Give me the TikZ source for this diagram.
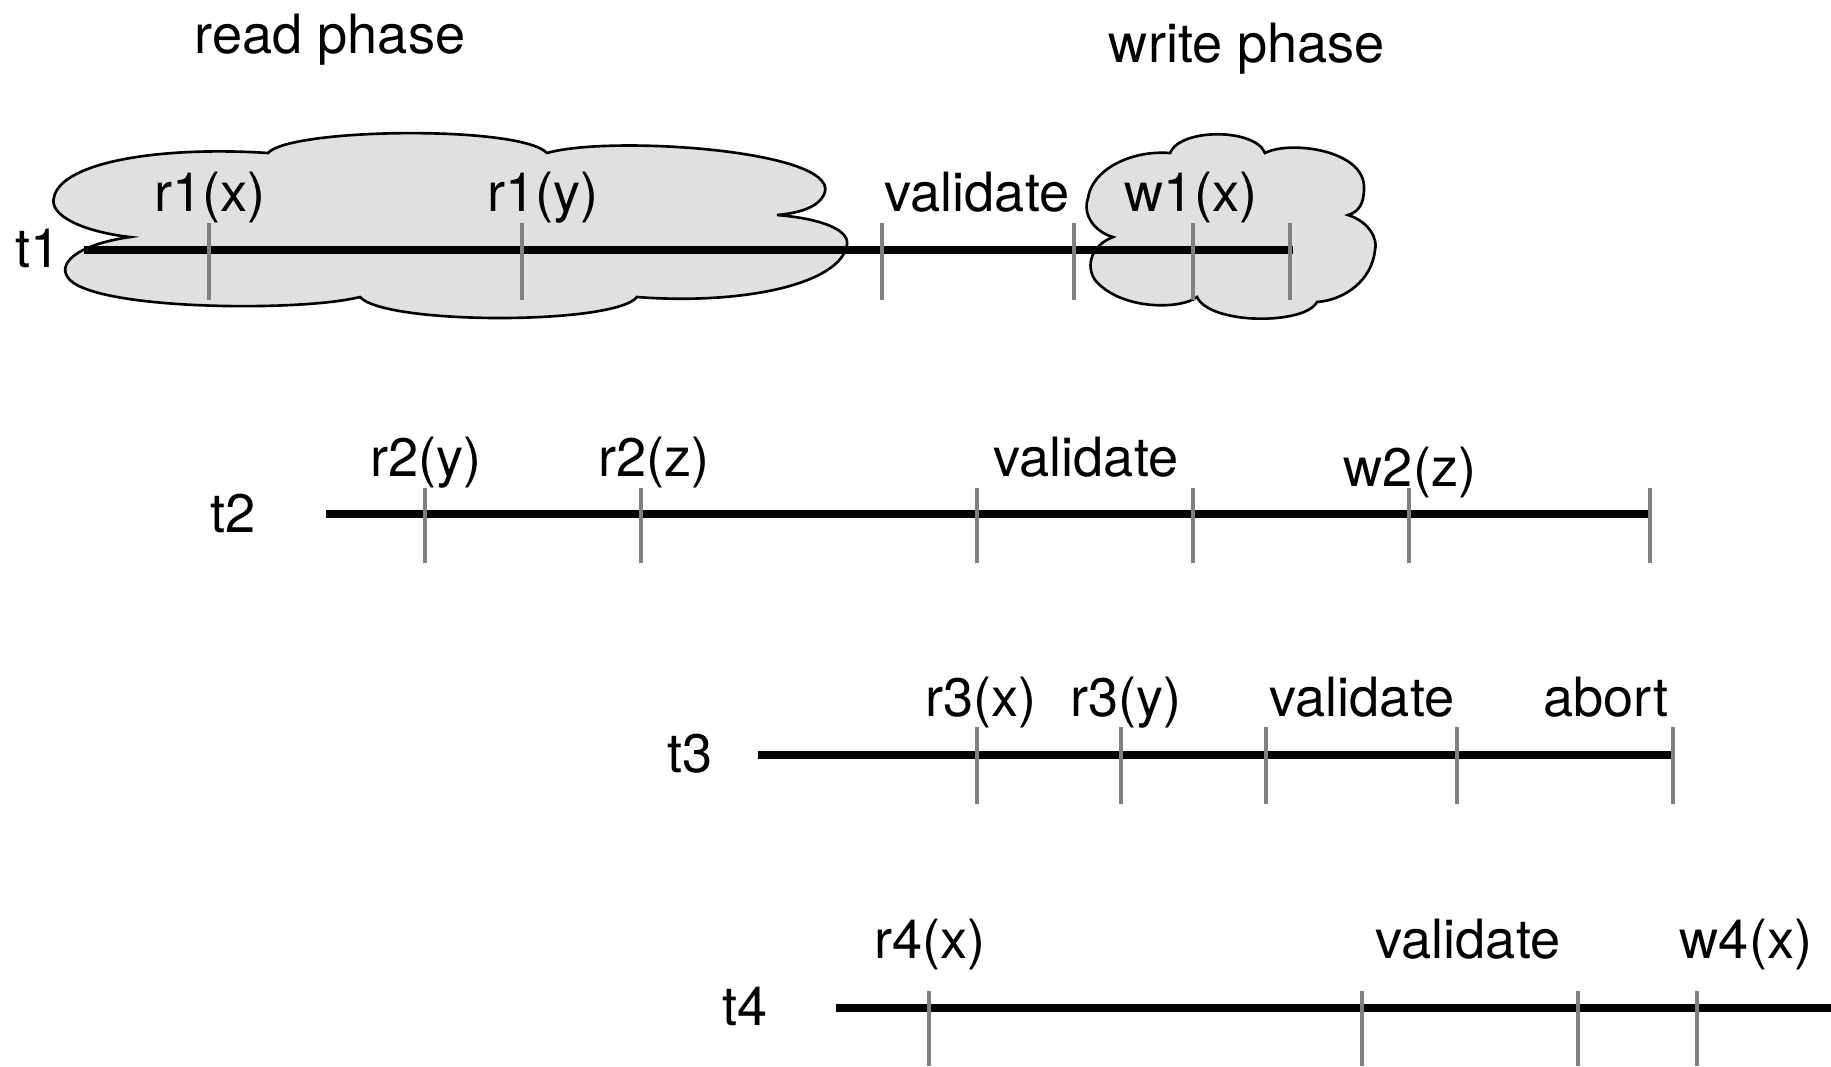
\documentclass[tikz,border=0pt]{standalone}
\usepackage{fontspec}
\setmainfont{TeX Gyre Heros}
\definecolor{tickgray}{gray}{0.5}
\definecolor{cloudgray}{gray}{0.88}

\begin{document}
\begin{tikzpicture}
[
x = 0.01cm, y = -0.01cm,
    timeline/.style = {line width = 2.4pt},
    tickmark/.style = {draw = tickgray, line width = 1.1pt},
    phase/.style = {fill = cloudgray, draw = black, line width = 0.75pt},
    op/.style = {anchor = base, inner sep = 0pt, font = \fontsize{15.4}{18}\selectfont}
]
    \useasboundingbox (0,0) rectangle (1831,1066);

    % read phase cloud
    \draw[phase] (130,237) .. controls (85,232) and (48,216) .. (54,197)
        .. controls (62,162) and (160,146) .. (268,153)
        .. controls (290,128) and (520,125) .. (547,153)
        .. controls (610,135) and (835,150) .. (825,192)
        .. controls (820,207) and (800,213) .. (777,215)
        .. controls (815,218) and (850,228) .. (847,245)
        .. controls (840,285) and (740,305) .. (637,297)
        .. controls (615,325) and (385,325) .. (360,297)
        .. controls (300,312) and (100,310) .. (70,280)
        .. controls (55,265) and (75,245) .. cycle;
    % write phase cloud
    \draw[phase] (1113,237) .. controls (1095,232) and (1082,215) .. (1088,198)
        .. controls (1092,170) and (1130,150) .. (1170,153)
        .. controls (1180,128) and (1255,128) .. (1265,153)
        .. controls (1290,140) and (1365,150) .. (1364,188)
        .. controls (1364,205) and (1358,212) .. (1348,215)
        .. controls (1370,222) and (1378,240) .. (1375,250)
        .. controls (1372,280) and (1345,300) .. (1317,302)
        .. controls (1305,325) and (1210,325) .. (1197,297)
        .. controls (1180,310) and (1120,310) .. (1095,280)
        .. controls (1085,265) and (1092,245) .. cycle;

    \node[op] (readphase) at (330,53) {read phase};
    \node[op] (writephase) at (1247,62) {write phase};

    % t1
    \coordinate (t1start) at (84,250);
    \coordinate (t1end) at (1293,250);
    \draw[timeline] (t1start) -- (t1end);
    \foreach \x in {209,522,882,1074,1193,1290}
        \draw[tickmark] (\x,223) -- (\x,300);
    \node[op] (t1) at (38,267) {t1};
    \node[op] (r1x) at (210,211) {r1(x)};
    \node[op] (r1y) at (543,211) {r1(y)};
    \node[op] (val1) at (977,211) {validate};
    \node[op] (w1x) at (1191,211) {w1(x)};

    % t2
    \coordinate (t2start) at (326,514);
    \coordinate (t2end) at (1650,514);
    \draw[timeline] (t2start) -- (t2end);
    \foreach \x in {425,641,977,1193,1409,1650}
        \draw[tickmark] (\x,488) -- (\x,563);
    \node[op] (t2) at (233,532) {t2};
    \node[op] (r2y) at (426,476) {r2(y)};
    \node[op] (r2z) at (654,476) {r2(z)};
    \node[op] (val2) at (1086,476) {validate};
    \node[op] (w2z) at (1410,486) {w2(z)};

    % t3
    \coordinate (t3start) at (758,755);
    \coordinate (t3end) at (1673,755);
    \draw[timeline] (t3start) -- (t3end);
    \foreach \x in {977,1121,1266,1457,1673}
        \draw[tickmark] (\x,727) -- (\x,804);
    \node[op] (t3) at (690,772) {t3};
    \node[op] (r3x) at (981,716) {r3(x)};
    \node[op] (r3y) at (1126,716) {r3(y)};
    \node[op] (val3) at (1362,716) {validate};
    \node[op] (abort3) at (1606,716) {abort};

    % t4
    \coordinate (t4start) at (836,1008);
    \coordinate (t4end) at (1831,1008);
    \draw[timeline] (t4start) -- (t4end);
    \foreach \x in {929,1362,1578,1697}
        \draw[tickmark] (\x,991) -- (\x,1066);
    \node[op] (t4) at (745,1025) {t4};
    \node[op] (r4x) at (930,958) {r4(x)};
    \node[op] (val4) at (1468,958) {validate};
    \node[op] (w4x) at (1746,958) {w4(x)};
\end{tikzpicture}
\end{document}
